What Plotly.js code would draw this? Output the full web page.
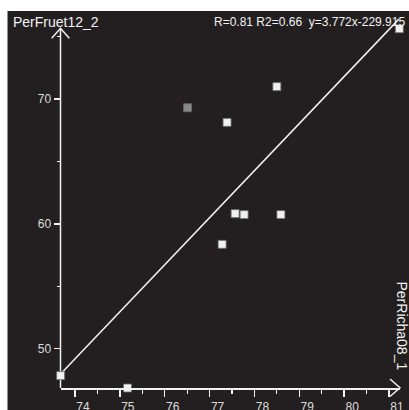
<!DOCTYPE html>
<html>
<head>
<meta charset="utf-8">
<script src="https://cdn.plot.ly/plotly-3.0.1.min.js"></script>
<style>html,body{margin:0;padding:0;background:#fff;}#chart{width:409px;height:410px;}</style>
</head>
<body>
<div id="chart"></div>
<script>
// Data
var xValues = [73.68, 75.17, 76.51, 77.39, 78.50, 77.57, 77.77, 78.59, 77.28, 81.23];
var yValues = [47.84, 46.85, 69.30, 68.13, 70.99, 60.82, 60.74, 60.74, 58.36, 75.63];
var pointColors = ['#f0f0f0','#f0f0f0','#8a8a8a','#f0f0f0','#f0f0f0','#f0f0f0','#f0f0f0','#f0f0f0','#f0f0f0','#f0f0f0'];
var fitX = [73.71, 81.22];
var fitY = [48.10, 76.40];
var xLabel = 'PerRicha08_1';
var yLabel = 'PerFruet12_2';
var statsText = 'R=0.81 R2=0.66  y=3.772x-229.915';

var W = 409, H = 410;
function px(x){ return x / W; }
function py(y){ return (H - y) / H; }

var fg = '#f2f2f2';
var bg = '#231f20';
var font = 'Liberation Sans, Arial, sans-serif';

var traces = [
  {x: fitX, y: fitY, mode: 'lines', line: {color: fg, width: 1.5}, hoverinfo: 'skip', cliponaxis: false},
  {x: xValues, y: yValues, mode: 'markers', cliponaxis: false,
   marker: {symbol: 'square', size: 8, color: pointColors, line: {color: '#6a6a6a', width: 0.8}}}
];

var layout = {
  width: W, height: H,
  margin: {l: 0, r: 0, t: 0, b: 0, pad: 0},
  paper_bgcolor: '#ffffff',
  plot_bgcolor: 'rgba(0,0,0,0)',
  showlegend: false,
  xaxis: {
    domain: [px(60.5), px(400)],
    range: [73.677, 81.245],
    anchor: 'free', position: py(388),
    showgrid: false, zeroline: false,
    showline: true, linecolor: fg, linewidth: 1.5,
    tick0: 74, dtick: 1,
    ticks: 'outside', ticklen: 7, tickwidth: 1.5, tickcolor: fg,
    ticklabelshift: 8,
    minor: {dtick: 0.5, ticks: 'outside', ticklen: 4, tickwidth: 1.2, tickcolor: fg, showgrid: false},
    tickfont: {family: font, size: 12, color: '#dddddd'},
    fixedrange: true
  },
  yaxis: {
    domain: [py(388), py(15)],
    range: [46.85, 76.73],
    anchor: 'free', position: px(60.5),
    showgrid: false, zeroline: false,
    showline: false,
    tick0: 50, dtick: 10,
    ticks: 'outside', ticklen: 7, tickwidth: 1.5, tickcolor: fg,
    minor: {dtick: 5, ticks: 'outside', ticklen: 3.5, tickwidth: 1.2, tickcolor: fg, showgrid: false},
    tickfont: {family: font, size: 12, color: '#dddddd'},
    fixedrange: true
  },
  shapes: [
    {type: 'rect', xref: 'paper', yref: 'paper', x0: px(7.5), x1: 1, y0: 0, y1: py(11),
     fillcolor: bg, line: {width: 0}, layer: 'below'},
    {type: 'line', xref: 'paper', yref: 'paper', x0: px(60.5), x1: px(60.5), y0: py(388), y1: py(28.3),
     line: {color: fg, width: 1.5}, layer: 'below'},
    {type: 'path', xref: 'paper', yref: 'paper',
     path: 'M ' + px(51.7) + ',' + py(38.3) + ' L ' + px(60.5) + ',' + py(28.3) + ' L ' + px(69.3) + ',' + py(38.3),
     line: {color: fg, width: 1.5}, layer: 'below'},
    {type: 'path', xref: 'paper', yref: 'paper',
     path: 'M ' + px(390) + ',' + py(379) + ' L ' + px(400) + ',' + py(387.7) + ' L ' + px(390) + ',' + py(396.5),
     line: {color: fg, width: 1.5}, layer: 'below'}
  ],
  annotations: [
    {xref: 'paper', yref: 'paper', x: px(11), y: py(22), xanchor: 'left', yanchor: 'middle',
     text: yLabel, showarrow: false, font: {family: font, size: 14, color: fg}},
    {xref: 'paper', yref: 'paper', x: px(407), y: py(22), xanchor: 'right', yanchor: 'middle',
     text: statsText, showarrow: false, font: {family: font, size: 12, color: fg}},
    {xref: 'paper', yref: 'paper', x: px(401.5), y: py(326), xanchor: 'center', yanchor: 'middle',
     text: xLabel, textangle: 90, showarrow: false, font: {family: font, size: 14, color: fg}}
  ]
};

Plotly.newPlot('chart', traces, layout, {displayModeBar: false, staticPlot: true});
</script>
</body>
</html>
